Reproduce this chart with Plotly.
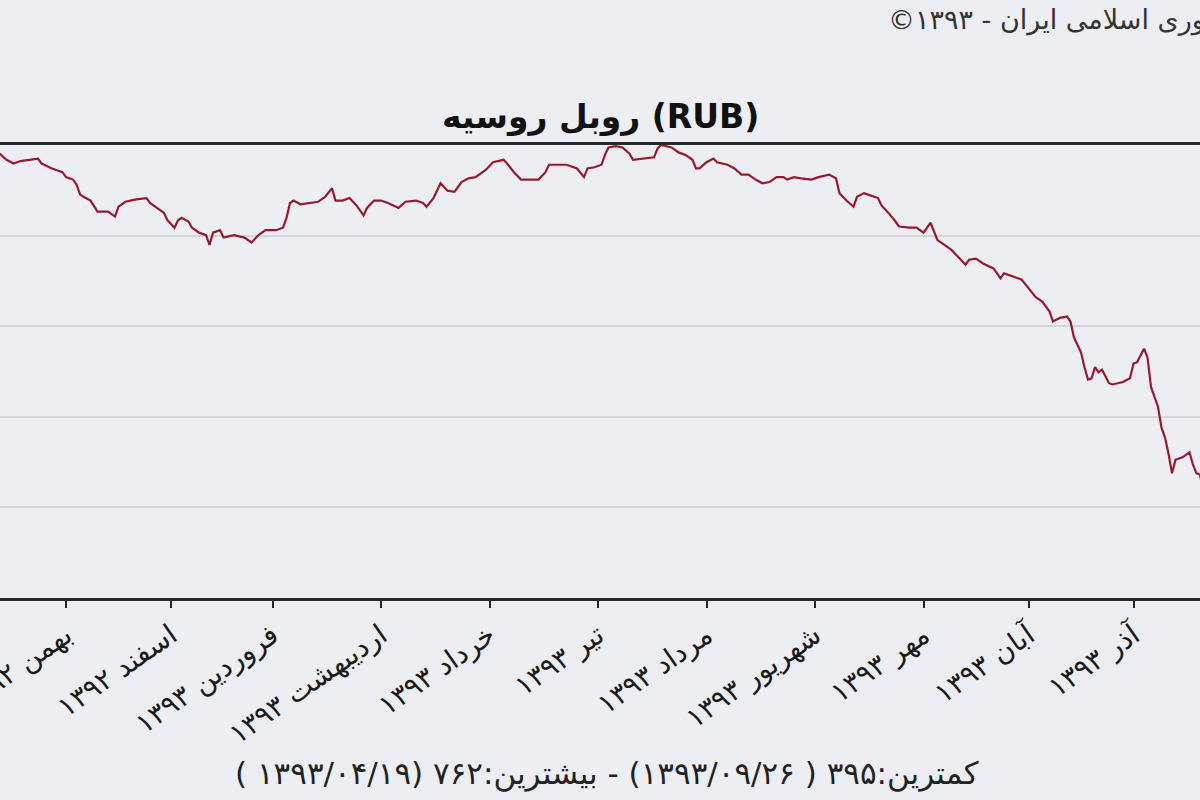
import plotly.graph_objects as go

# Day offset counted from 1 Bahman 1392
days = [-22, -19, -17, -15, -13, -11, -8, -7, -4, -1, 0, 2, 3, 4, 5, 7, 8, 9, 12, 14,
        15, 17, 20, 23, 24, 26, 28, 29, 31, 32, 33, 35, 36, 38, 40, 41, 42, 44, 45, 48,
        51, 53, 55, 57, 60, 62, 63, 64, 65, 67, 69, 72, 74, 76, 77, 79, 81, 83, 85, 86,
        88, 90, 92, 95, 97, 100, 102, 103, 105, 107, 109, 111, 113, 115, 117, 120, 122, 125, 126, 128,
        130, 133, 135, 137, 138, 140, 143, 146, 148, 149, 151, 153, 154, 155, 157, 159, 161, 162, 165, 168,
        169, 170, 173, 175, 177, 179, 180, 181, 183, 185, 186, 189, 191, 193, 195, 197, 199, 201, 203, 205,
        206, 208, 210, 213, 215, 218, 220, 221, 223, 225, 226, 228, 230, 232, 233, 235, 237, 238, 241, 243,
        245, 247, 249, 251, 253, 255, 257, 258, 260, 262, 265, 267, 268, 271, 273, 275, 277, 279, 281, 282,
        284, 286, 287, 288, 290, 291, 292, 293, 294, 295, 296, 298, 299, 302, 304, 305, 306, 308, 309, 310,
        312, 313, 314, 315, 316, 317, 319, 321, 322, 323, 324, 327, 330]

rates = [755, 755, 750, 747, 749, 750, 751, 747, 743, 740, 736, 734, 730, 722, 720, 717, 712, 708, 708, 704,
         712, 716, 718, 719, 715, 711, 707, 701, 695, 701, 703, 700, 695, 691, 689, 681, 691, 693, 687, 689,
         687, 683, 689, 693, 693, 695, 703, 715, 717, 714, 715, 716, 720, 727, 717, 717, 719, 713, 705, 711,
         717, 717, 715, 711, 716, 717, 715, 712, 719, 731, 725, 724, 732, 735, 736, 742, 748, 750, 747, 740,
         734, 734, 734, 740, 746, 746, 746, 743, 736, 743, 744, 746, 754, 760, 761, 760, 755, 750, 751, 752,
         759, 762, 760, 756, 754, 750, 743, 743, 748, 751, 748, 746, 743, 738, 738, 734, 731, 732, 736, 736,
         734, 736, 735, 734, 736, 738, 735, 723, 717, 712, 720, 723, 721, 719, 713, 707, 700, 696, 695, 695,
         691, 699, 685, 681, 677, 671, 665, 669, 670, 666, 662, 654, 658, 655, 653, 646, 639, 635, 627, 619,
         622, 623, 619, 606, 594, 582, 572, 573, 582, 578, 580, 569, 568, 570, 573, 585, 586, 597, 590, 566,
         550, 533, 525, 512, 496, 507, 509, 513, 503, 496, 495, 450, 395]

assert len(days) == len(rates)

tick_days = [0, 30, 59, 90, 121, 152, 183, 214, 245, 275, 305]
tick_labels = ["بهمن ۱۳۹۲", "اسفند ۱۳۹۲", "فروردین ۱۳۹۳", "اردیبهشت ۱۳۹۳", "خرداد ۱۳۹۳",
               "تیر ۱۳۹۳", "مرداد ۱۳۹۳", "شهریور ۱۳۹۳", "مهر ۱۳۹۳", "آبان ۱۳۹۳", "آذر ۱۳۹۳"]

min_rate = 395
max_rate = 762
x_view = [-18.86, 324.0]

title_text = "روبل روسیه (RUB)"
source_text = "بانک مرکزی جمهوری اسلامی ایران - ۱۳۹۳©\u200f"
footer_text = "کمترین:۳۹۵ ( ۱۳۹۳/۰۹/۲۶) - بیشترین:۷۶۲ (۱۳۹۳/۰۴/۱۹ )"

bg = "#ECEEF3"
font = "DejaVu Sans"

fig = go.Figure()
fig.add_trace(go.Scatter(
    x=days, y=rates, mode="lines",
    line=dict(color="#981A2E", width=2.2),
    hoverinfo="skip", showlegend=False,
))

fig.update_layout(
    width=1200, height=800,
    margin=dict(l=0, r=0, t=145, b=202, autoexpand=False),
    paper_bgcolor=bg, plot_bgcolor=bg,
    font=dict(family=font, color="#222222"),
    showlegend=False,
)

fig.update_xaxes(
    range=x_view, automargin=False,
    tickmode="array", tickvals=tick_days, ticktext=tick_labels,
    tickangle=-35,
    tickfont=dict(family=font, size=28, color="#1A1A1A"),
    ticklabeloverflow="allow",
    ticks="outside", ticklen=7, tickwidth=2, tickcolor="#222222",
    showline=True, linecolor="#2A2A2A", linewidth=3, mirror=True,
    showgrid=False, zeroline=False,
)

fig.update_yaxes(
    range=[min_rate, max_rate], automargin=False,
    tick0=min_rate, dtick=(max_rate - min_rate) / 5,
    showticklabels=False, ticks="",
    showgrid=True, gridcolor="#D3D5DA", gridwidth=2,
    zeroline=False, showline=False,
)

fig.add_annotation(
    text=title_text, xref="paper", yref="paper", x=0.5, y=1.0,
    yshift=28, xanchor="center", yanchor="middle", showarrow=False,
    font=dict(family=font, size=33, color="#111111", weight="bold"),
)
fig.add_annotation(
    text=source_text, xref="paper", yref="paper", x=0.738, y=1.0,
    yshift=125, xanchor="left", yanchor="middle", showarrow=False,
    font=dict(family=font, size=27, color="#333333"),
)
fig.add_annotation(
    text=footer_text, xref="paper", yref="paper", x=0.506, y=0.0,
    yshift=-175, xanchor="center", yanchor="middle", showarrow=False,
    font=dict(family=font, size=31, color="#222222"),
)

fig.write_html(
    "out.html",
    config={"displayModeBar": False},
    post_script="document.body.style.margin='0';document.body.style.overflow='hidden';",
)
